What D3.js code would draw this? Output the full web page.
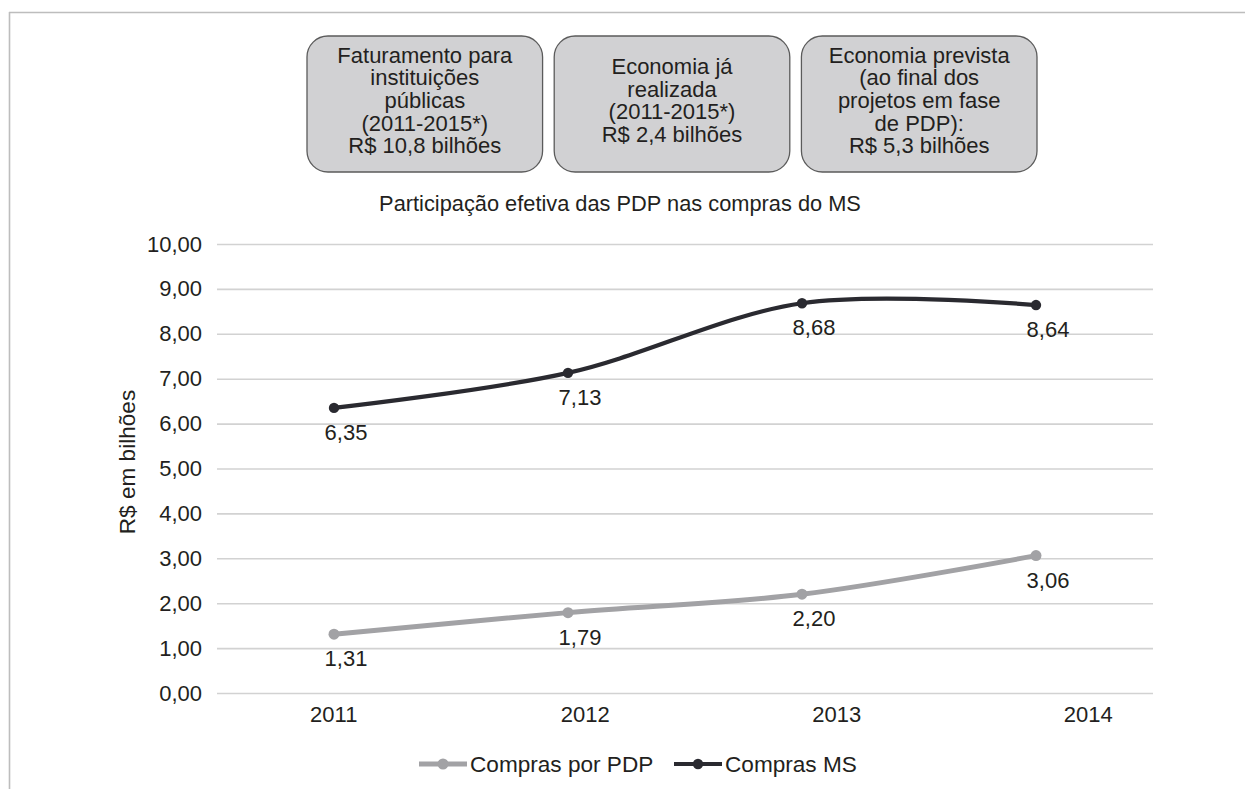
<!DOCTYPE html>
<html>
<head>
<meta charset="utf-8">
<script src="https://cdn.jsdelivr.net/npm/d3@7"></script>
<style>
  html, body { margin: 0; padding: 0; background: #ffffff; }
  svg { display: block; }
  text { font-family: "Liberation Sans", Arial, Helvetica, sans-serif; fill: #231f20; }
</style>
</head>
<body>
<svg id="chart" width="1245" height="789"></svg>
<script>
// ---- data ----
const years = ["2011", "2012", "2013", "2014"];
const comprasPDP = [1.31, 1.79, 2.20, 3.06];
const comprasMS = [6.35, 7.13, 8.68, 8.64];
const yTicks = [0, 1, 2, 3, 4, 5, 6, 7, 8, 9, 10];
const seriesNames = ["Compras por PDP", "Compras MS"];
const boxTexts = [
  ["Faturamento para", "instituições", "públicas", "(2011-2015*)", "R$ 10,8 bilhões"],
  ["Economia já", "realizada", "(2011-2015*)", "R$ 2,4 bilhões"],
  ["Economia prevista", "(ao final dos", "projetos em fase", "de PDP):", "R$ 5,3 bilhões"]
];
const chartTitle = "Participação efetiva das PDP nas compras do MS";
const yTitle = "R$ em bilhões";

// ---- layout ----
const svg = d3.select("#chart");
const plot = { left: 217, right: 1153, top: 244, bottom: 693 };
const colors = { pdp: "#a2a2a5", ms: "#2a2a30", grid: "#d2d2d2", frame: "#bdbdbd" };
const ptLocale = d3.formatLocale({ decimal: ",", thousands: ".", grouping: [3], currency: ["R$", ""] });
const fmt = ptLocale.format(".2f");
const FS = "22px";

// outer frame (top and left edges)
svg.append("line").attr("x1", 9).attr("x2", 1245).attr("y1", 12.5).attr("y2", 12.5)
  .attr("stroke", colors.frame).attr("stroke-width", 1.6);
svg.append("line").attr("x1", 9.5).attr("x2", 9.5).attr("y1", 12).attr("y2", 789)
  .attr("stroke", colors.frame).attr("stroke-width", 1.6);

// ---- scales ----
const x = d3.scaleBand().domain(years).range([plot.left, plot.right]);
const xLab = d3.scaleBand().domain(years).range([208, 1214]);
const y = d3.scaleLinear().domain([0, 10]).range([plot.bottom, plot.top]);
const cx = d => x(d) + x.bandwidth() / 2;

// ---- info boxes ----
const boxX = d3.scaleBand().domain(d3.range(boxTexts.length)).range([307, 1037]).paddingInner(0.047);
const boxG = svg.append("g");
boxTexts.forEach((lines, i) => {
  const bx = boxX(i), bw = boxX.bandwidth();
  boxG.append("rect").attr("x", bx).attr("y", 36).attr("width", bw).attr("height", 136)
    .attr("rx", 21).attr("ry", 21)
    .attr("fill", "#d1d1d3").attr("stroke", "#5b5b5b").attr("stroke-width", 1.3);
  const lh = 22.6;
  const c = 100;
  const start = c - (lines.length - 1) * lh / 2;
  lines.forEach((t, k) => {
    boxG.append("text").attr("x", bx + bw / 2).attr("y", start + k * lh)
      .attr("dy", "0.36em").attr("text-anchor", "middle")
      .style("font-size", FS).text(t);
  });
});

// ---- title ----
svg.append("text").attr("x", 620).attr("y", 203).attr("dy", "0.36em")
  .attr("text-anchor", "middle").style("font-size", "21.8px").text(chartTitle);

// ---- y axis / gridlines ----
const yAxis = d3.axisLeft(y).tickValues(yTicks).tickFormat(fmt)
  .tickSize(-(plot.right - plot.left)).tickPadding(15);
const gy = svg.append("g").attr("transform", `translate(${plot.left},0)`).call(yAxis);
gy.select(".domain").remove();
gy.selectAll(".tick line").attr("stroke", colors.grid).attr("stroke-width", 1.6);
gy.selectAll(".tick text").style("font-size", FS).style("font-family", "Liberation Sans, Arial, sans-serif")
  .attr("fill", "#231f20");

// ---- x axis labels ----
const xAxis = d3.axisBottom(xLab).tickSize(0).tickPadding(13);
const gx = svg.append("g").attr("transform", `translate(0,${plot.bottom})`).call(xAxis);
gx.select(".domain").remove();
gx.selectAll(".tick text").style("font-size", FS).style("font-family", "Liberation Sans, Arial, sans-serif")
  .attr("fill", "#231f20");

// ---- y title ----
svg.append("text").attr("transform", `translate(127,462) rotate(-90)`)
  .attr("dy", "0.36em").attr("text-anchor", "middle").style("font-size", "22.6px").text(yTitle);

// ---- lines ----
const line = d3.line().x((d, i) => cx(years[i])).y(d => y(d)).curve(d3.curveCardinal.tension(0));
const series = [
  { vals: comprasPDP, color: colors.pdp, w: 5, r: 5.5 },
  { vals: comprasMS, color: colors.ms, w: 4.2, r: 5.2 }
];
series.forEach(s => {
  svg.append("path").datum(s.vals).attr("d", line).attr("fill", "none")
    .attr("stroke", s.color).attr("stroke-width", s.w).attr("stroke-linecap", "round");
  svg.selectAll(null).data(s.vals).enter().append("circle")
    .attr("cx", (d, i) => cx(years[i])).attr("cy", d => y(d)).attr("r", s.r).attr("fill", s.color);
  svg.selectAll(null).data(s.vals).enter().append("text")
    .attr("x", (d, i) => cx(years[i]) + 12).attr("y", d => y(d) + 24).attr("dy", "0.36em")
    .attr("text-anchor", "middle").style("font-size", FS).text(d => fmt(d));
});

// ---- legend ----
const legX = d3.scalePoint().domain(seriesNames).range([419, 674]);
const legY = 764;
seriesNames.forEach((n, i) => {
  const s = series[i];
  const lx = legX(n);
  svg.append("line").attr("x1", lx).attr("x2", lx + 48).attr("y1", legY).attr("y2", legY)
    .attr("stroke", s.color).attr("stroke-width", s.w);
  svg.append("circle").attr("cx", lx + 24).attr("cy", legY).attr("r", s.r).attr("fill", s.color);
  svg.append("text").attr("x", lx + 51).attr("y", legY).attr("dy", "0.36em")
    .style("font-size", "22.6px").text(n);
});
</script>
</body>
</html>
